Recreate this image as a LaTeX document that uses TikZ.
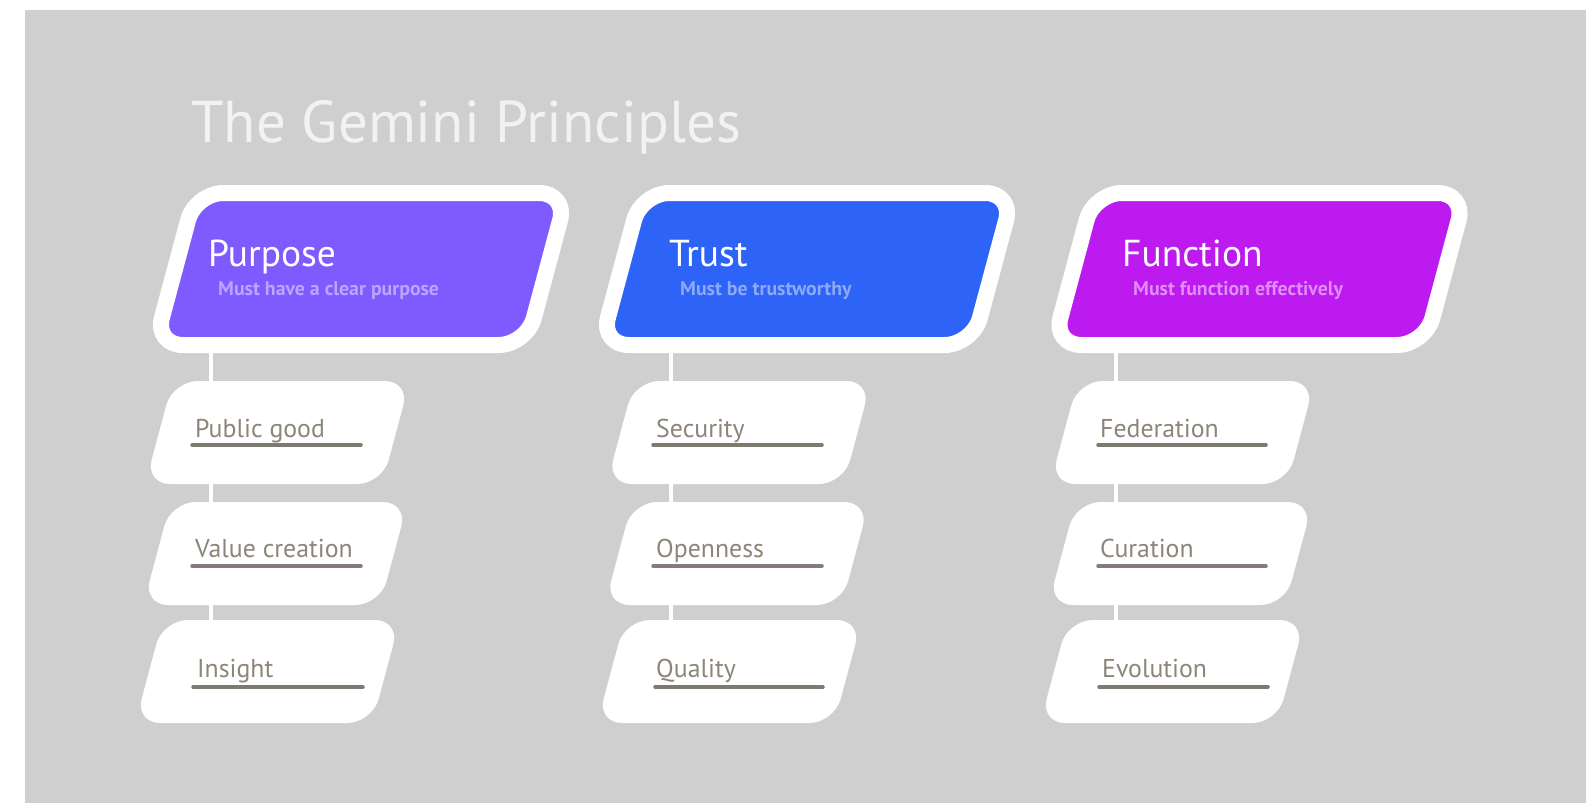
\documentclass[tikz,border=0pt]{standalone}
\usepackage{fontspec}
\setmainfont{PT Sans}
\definecolor{grund}{HTML}{CFCFCF}
\definecolor{lila}{HTML}{7F5AFF}
\definecolor{blau}{HTML}{2D63F6}
\definecolor{violett}{HTML}{BC1AEE}
\definecolor{lilahell}{HTML}{B8A6FF}
\definecolor{blauhell}{HTML}{8DA9F9}
\definecolor{violetthell}{HTML}{DF8CF7}
\definecolor{schrift}{HTML}{8C8579}
\definecolor{strichgrau}{HTML}{7D7B70}
\definecolor{strichrot}{HTML}{867A7A}
\tikzset{
  schraeg/.style={rectangle, xslant=0.268, transform shape, inner sep=0, outer sep=0},
  kopf/.style={schraeg, minimum width=372, minimum height=152,
    rounded corners=28, draw=white, line width=16},
  kasten/.style={schraeg, minimum width=237, minimum height=103,
    rounded corners=25, fill=white},
  titel/.style={anchor=base west, inner sep=0, text=white, font=\fontsize{37.5}{42}\selectfont},
  untertitel/.style={anchor=base west, inner sep=0, font=\bfseries\fontsize{19.8}{22}\selectfont},
  eintrag/.style={anchor=base west, inner sep=0, text=schrift, font=\fontsize{25.8}{30}\selectfont},
  strich/.style={line width=3.5, line cap=round},
  linie/.style={white, line width=4.5}
}
\begin{document}
\begin{tikzpicture}[x=1pt, y=-1pt]
  % Hintergrund
  \useasboundingbox (0,0) rectangle (1586,803);
  \fill[white] (0,0) rectangle (1586,803);
  \fill[grund] (25,10) rectangle (1586,803);
  \node[anchor=base west, inner sep=0, text=white!95!black, font=\fontsize{59}{70}\selectfont]
    (ueberschrift) at (191,142) {The Gemini Principles};

  % Purpose
  \node[kopf, fill=lila] (hP) at (361,269) {};
  \node[titel] (tP) at (208,266) {Purpose};
  \node[untertitel, text=lilahell] (uP) at (218,295) {Must have a clear purpose};
  \node[kasten] (p1) at (277.5,432.5) {};
  \node[kasten] (p2) at (275.5,553.5) {};
  \node[kasten] (p3) at (267.5,671.5) {};
  \node[eintrag] (p1t) at (195,437) {Public good};
  \node[eintrag] (p2t) at (195,557) {Value creation};
  \node[eintrag] (p3t) at (197,677) {Insight};

  % Trust
  \node[kopf, fill=blau] (hT) at (807,269) {};
  \node[titel] (tT) at (669,266) {Trust};
  \node[untertitel, text=blauhell] (uT) at (680,295) {Must be trustworthy};
  \node[kasten] (t1) at (739,432.5) {};
  \node[kasten] (t2) at (737,553.5) {};
  \node[kasten] (t3) at (729.5,671.5) {};
  \node[eintrag] (t1t) at (656,437) {Security};
  \node[eintrag] (t2t) at (656,557) {Openness};
  \node[eintrag] (t3t) at (656,677) {Quality};

  % Function
  \node[kopf, fill=violett] (hF) at (1259.5,269) {};
  \node[titel] (tF) at (1122,266) {Function};
  \node[untertitel, text=violetthell] (uF) at (1133,295) {Must function effectively};
  \node[kasten] (f1) at (1182.5,432.5) {};
  \node[kasten] (f2) at (1180.5,553.5) {};
  \node[kasten] (f3) at (1172.5,671.5) {};
  \node[eintrag] (f1t) at (1100,437) {Federation};
  \node[eintrag] (f2t) at (1100,557) {Curation};
  \node[eintrag] (f3t) at (1102,677) {Evolution};

  % Unterstriche
  \draw[strich, strichgrau] ([xshift=-3,yshift=-8]p1t.base west) -- ++(169,0);
  \draw[strich, strichrot]  ([xshift=-3,yshift=-9]p2t.base west) -- ++(169,0);
  \draw[strich, strichgrau] ([xshift=-4,yshift=-10]p3t.base west) -- ++(170,0);
  \draw[strich, strichgrau] ([xshift=-3,yshift=-8]t1t.base west) -- ++(169,0);
  \draw[strich, strichrot]  ([xshift=-3,yshift=-9]t2t.base west) -- ++(169,0);
  \draw[strich, strichgrau] ([xshift=-1,yshift=-10]t3t.base west) -- ++(168,0);
  \draw[strich, strichgrau] ([xshift=-2,yshift=-8]f1t.base west) -- ++(168,0);
  \draw[strich, strichrot]  ([xshift=-2,yshift=-9]f2t.base west) -- ++(168,0);
  \draw[strich, strichgrau] ([xshift=-3,yshift=-10]f3t.base west) -- ++(169,0);

  % Linien
  \coordinate (xP) at (211,0);
  \coordinate (xT) at (671,0);
  \coordinate (xF) at (1116,0);
  \draw[linie] (hP.south -| xP) -- (p1.north -| xP);
  \draw[linie] (p1.south -| xP) -- (p2.north -| xP);
  \draw[linie] (p2.south -| xP) -- (p3.north -| xP);
  \draw[linie] (hT.south -| xT) -- (t1.north -| xT);
  \draw[linie] (t1.south -| xT) -- (t2.north -| xT);
  \draw[linie] (t2.south -| xT) -- (t3.north -| xT);
  \draw[linie] (hF.south -| xF) -- (f1.north -| xF);
  \draw[linie] (f1.south -| xF) -- (f2.north -| xF);
  \draw[linie] (f2.south -| xF) -- (f3.north -| xF);
\end{tikzpicture}
\end{document}
